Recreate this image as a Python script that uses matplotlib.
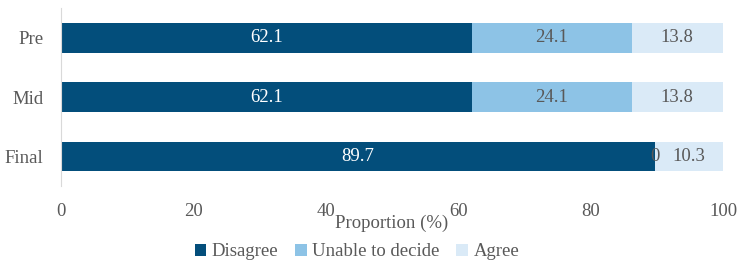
import numpy as np
import matplotlib.pyplot as plt
from matplotlib.patches import Patch

# Data (percent)
stages = ["Final", "Mid", "Pre"]
disagree = [89.7, 62.1, 62.1]
unable = [0, 24.1, 24.1]
agree = [10.3, 13.8, 13.8]

series_names = ["Disagree", "Unable to decide", "Agree"]
colors = ["#034E7B", "#8DC3E6", "#DAEAF7"]
text_colors = ["white", "#595959", "#595959"]

plt.rcParams['font.family'] = ['Liberation Serif', 'DejaVu Serif']

fig = plt.figure(figsize=(7.44, 2.67), dpi=100)
ax = fig.add_axes([61 / 744, 81 / 267, 662 / 744, 178 / 267])

y = np.arange(len(stages))
left = np.zeros(len(stages))
for vals, name, col, tcol in zip([disagree, unable, agree], series_names, colors, text_colors):
    bars = ax.barh(y, vals, left=left, height=0.5, color=col, label=name)
    labels = ["{:g}".format(v) for v in vals]
    ax.bar_label(bars, labels=labels, label_type='center', color=tcol, fontsize=13.5)
    left = left + np.array(vals)

ax.set_xlim(0, 100)
ax.set_ylim(-0.5, 2.5)
ax.set_xticks([0, 20, 40, 60, 80, 100])
ax.set_yticks(y)
ax.set_yticklabels(stages)
ax.tick_params(axis='both', length=0, labelsize=13.5, labelcolor='#595959')
ax.tick_params(axis='x', pad=12)
ax.tick_params(axis='y', pad=12.5)
for s in ['top', 'right', 'bottom']:
    ax.spines[s].set_visible(False)
ax.spines['left'].set_color('#D9D9D9')

fig.text(392 / 744, 1 - 223 / 267, "Proportion (%)", ha='center', va='center',
         fontsize=13.5, color='#595959')

handles = [Patch(facecolor=c, edgecolor='none') for c in colors]
fig.legend(handles, series_names, loc='center', bbox_to_anchor=(357 / 744, 1 - 252 / 267),
           ncol=3, frameon=False, fontsize=13.5, labelcolor='#595959',
           handlelength=0.6, handleheight=0.6, handletextpad=0.3, columnspacing=0.9)

fig.savefig("out.png", dpi=100)
